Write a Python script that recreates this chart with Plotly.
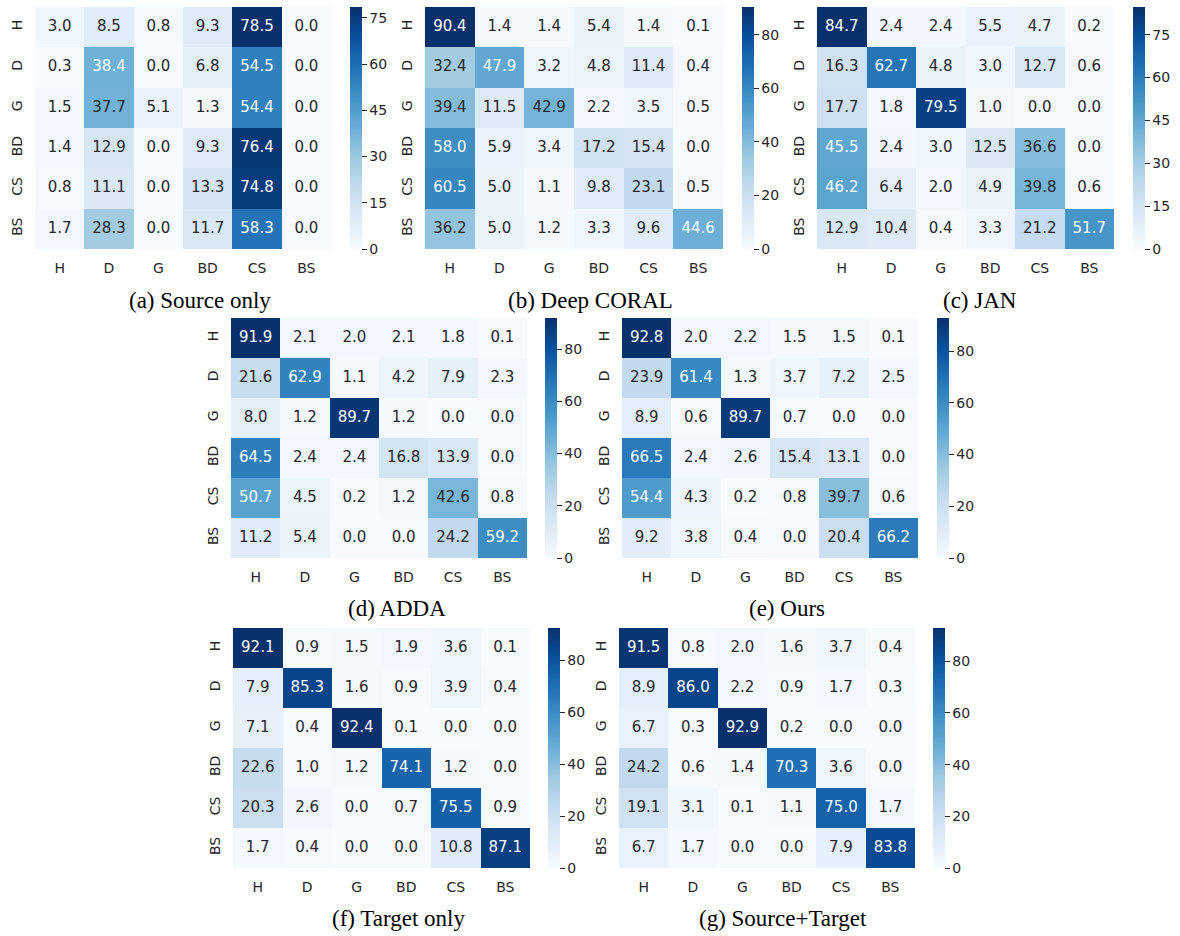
import plotly.graph_objects as go
import numpy as np

# Class labels (rows = true class, columns = predicted class)
classes = ["H", "D", "G", "BD", "CS", "BS"]

# Confusion matrices (row-normalised, %)
source_only = [
    [3.0, 8.5, 0.8, 9.3, 78.5, 0.0],
    [0.3, 38.4, 0.0, 6.8, 54.5, 0.0],
    [1.5, 37.7, 5.1, 1.3, 54.4, 0.0],
    [1.4, 12.9, 0.0, 9.3, 76.4, 0.0],
    [0.8, 11.1, 0.0, 13.3, 74.8, 0.0],
    [1.7, 28.3, 0.0, 11.7, 58.3, 0.0],
]
deep_coral = [
    [90.4, 1.4, 1.4, 5.4, 1.4, 0.1],
    [32.4, 47.9, 3.2, 4.8, 11.4, 0.4],
    [39.4, 11.5, 42.9, 2.2, 3.5, 0.5],
    [58.0, 5.9, 3.4, 17.2, 15.4, 0.0],
    [60.5, 5.0, 1.1, 9.8, 23.1, 0.5],
    [36.2, 5.0, 1.2, 3.3, 9.6, 44.6],
]
jan = [
    [84.7, 2.4, 2.4, 5.5, 4.7, 0.2],
    [16.3, 62.7, 4.8, 3.0, 12.7, 0.6],
    [17.7, 1.8, 79.5, 1.0, 0.0, 0.0],
    [45.5, 2.4, 3.0, 12.5, 36.6, 0.0],
    [46.2, 6.4, 2.0, 4.9, 39.8, 0.6],
    [12.9, 10.4, 0.4, 3.3, 21.2, 51.7],
]
adda = [
    [91.9, 2.1, 2.0, 2.1, 1.8, 0.1],
    [21.6, 62.9, 1.1, 4.2, 7.9, 2.3],
    [8.0, 1.2, 89.7, 1.2, 0.0, 0.0],
    [64.5, 2.4, 2.4, 16.8, 13.9, 0.0],
    [50.7, 4.5, 0.2, 1.2, 42.6, 0.8],
    [11.2, 5.4, 0.0, 0.0, 24.2, 59.2],
]
ours = [
    [92.8, 2.0, 2.2, 1.5, 1.5, 0.1],
    [23.9, 61.4, 1.3, 3.7, 7.2, 2.5],
    [8.9, 0.6, 89.7, 0.7, 0.0, 0.0],
    [66.5, 2.4, 2.6, 15.4, 13.1, 0.0],
    [54.4, 4.3, 0.2, 0.8, 39.7, 0.6],
    [9.2, 3.8, 0.4, 0.0, 20.4, 66.2],
]
target_only = [
    [92.1, 0.9, 1.5, 1.9, 3.6, 0.1],
    [7.9, 85.3, 1.6, 0.9, 3.9, 0.4],
    [7.1, 0.4, 92.4, 0.1, 0.0, 0.0],
    [22.6, 1.0, 1.2, 74.1, 1.2, 0.0],
    [20.3, 2.6, 0.0, 0.7, 75.5, 0.9],
    [1.7, 0.4, 0.0, 0.0, 10.8, 87.1],
]
source_target = [
    [91.5, 0.8, 2.0, 1.6, 3.7, 0.4],
    [8.9, 86.0, 2.2, 0.9, 1.7, 0.3],
    [6.7, 0.3, 92.9, 0.2, 0.0, 0.0],
    [24.2, 0.6, 1.4, 70.3, 3.6, 0.0],
    [19.1, 3.1, 0.1, 1.1, 75.0, 1.7],
    [6.7, 1.7, 0.0, 0.0, 7.9, 83.8],
]

captions = ["(a) Source only", "(b) Deep CORAL", "(c) JAN", "(d) ADDA",
            "(e) Ours", "(f) Target only", "(g) Source+Target"]
matrices = [source_only, deep_coral, jan, adda, ours, target_only, source_target]
cbar_steps = [15, 20, 15, 20, 20, 20, 20]

# Panel geometry in pixels: heatmap left, right, top, bottom, colorbar left, caption centre x, caption y
W, H = 1180, 936
panels = [
    (35, 331, 7, 249, 350, 200, 300),
    (425, 723, 7, 249, 742, 590, 300),
    (817, 1114, 7, 249, 1133, 980, 300),
    (231, 527, 318, 558, 545, 397, 608),
    (622, 918, 318, 558, 937, 787, 608),
    (233, 530, 628, 868, 548, 398, 918),
    (619, 915, 628, 868, 933, 783, 918),
]

# matplotlib "Blues" anchor colours
blues = [(247, 251, 255), (222, 235, 247), (198, 219, 239), (158, 202, 225),
         (107, 174, 214), (66, 146, 198), (33, 113, 181), (8, 81, 156), (8, 48, 107)]
colorscale = [[i / 8, "rgb(%d,%d,%d)" % c] for i, c in enumerate(blues)]


def blues_rgb(frac):
    # 256-entry lookup like matplotlib's colormap
    idx = min(int(frac * 256), 255)
    x = idx / 255 * 8
    i = min(int(x), 7)
    t = x - i
    a, b = np.array(blues[i]) / 255, np.array(blues[i + 1]) / 255
    return a + (b - a) * t


def text_colour(frac):
    rgb = blues_rgb(frac)
    lin = np.where(rgb <= 0.03928, rgb / 12.92, ((rgb + 0.055) / 1.055) ** 2.4)
    lum = 0.2126 * lin[0] + 0.7152 * lin[1] + 0.0722 * lin[2]
    return "#262626" if lum > 0.408 else "white"


FONT = "DejaVu Sans"
INK = "#262626"

fig = go.Figure()
layout = {}
annotations = []

for k, (z, cap, step, geo) in enumerate(zip(matrices, captions, cbar_steps, panels)):
    x0, x1, y0, y1, cbx, capx, capy = geo
    n = k + 1
    xa = "x" if n == 1 else "x%d" % n
    ya = "y" if n == 1 else "y%d" % n
    zarr = np.array(z)
    zmin, zmax = zarr.min(), zarr.max()

    fig.add_trace(go.Heatmap(
        z=z, x=classes, y=classes, xaxis=xa, yaxis=ya,
        colorscale=colorscale, zmin=zmin, zmax=zmax, hoverinfo="skip",
        colorbar=dict(
            x=cbx / W, xanchor="left", xpad=0,
            y=1 - y0 / H, yanchor="top", ypad=0,
            len=y1 - y0, lenmode="pixels",
            thickness=12, thicknessmode="pixels",
            outlinewidth=0,
            tickmode="linear", tick0=0, dtick=step,
            ticks="outside", ticklen=5, tickwidth=1, tickcolor=INK,
            tickfont=dict(family=FONT, size=14, color=INK),
        ),
    ))

    xs, ys, txt, cols = [], [], [], []
    for r, row in enumerate(z):
        for c, v in enumerate(row):
            xs.append(classes[c])
            ys.append(classes[r])
            txt.append("%.1f" % v)
            cols.append(text_colour((v - zmin) / (zmax - zmin)))
    fig.add_trace(go.Scatter(
        x=xs, y=ys, text=txt, mode="text", xaxis=xa, yaxis=ya,
        textfont=dict(family=FONT, size=15, color=cols),
        hoverinfo="skip", showlegend=False,
    ))

    key_x = "xaxis" if n == 1 else "xaxis%d" % n
    key_y = "yaxis" if n == 1 else "yaxis%d" % n
    layout[key_x] = dict(
        domain=[x0 / W, x1 / W], anchor=ya, range=[-0.5, 5.5],
        type="category", showgrid=False, zeroline=False, showline=False,
        ticks="outside", ticklen=6, tickcolor="rgba(0,0,0,0)",
        tickfont=dict(family=FONT, size=14, color=INK),
    )
    layout[key_y] = dict(
        domain=[1 - y1 / H, 1 - y0 / H], anchor=xa, range=[5.5, -0.5],
        type="category", showgrid=False, zeroline=False, showline=False,
        ticks="outside", ticklen=6, tickcolor="rgba(0,0,0,0)", tickangle=-90,
        tickfont=dict(family=FONT, size=14, color=INK),
    )
    annotations.append(dict(
        text=cap, xref="paper", yref="paper", x=capx / W, y=1 - capy / H,
        xanchor="center", yanchor="middle", showarrow=False,
        font=dict(family="Liberation Serif", size=23, color="black"),
    ))

fig.update_layout(
    width=W, height=H, margin=dict(l=0, r=0, t=0, b=0),
    paper_bgcolor="white", plot_bgcolor="white",
    showlegend=False, annotations=annotations, **layout,
)

fig.write_html("out.html")
